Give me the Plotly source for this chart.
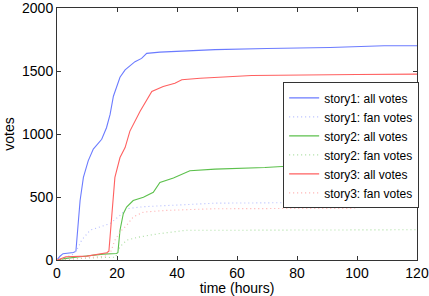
import plotly.graph_objects as go

# story1 all votes
s1_all_t = [0, 1, 2, 5.5, 6.3, 7, 7.7, 8.8, 10.4, 12.1, 14.9, 16.5, 17.7, 18.8, 19.9, 21, 22.7, 26, 28.2, 29.9, 34.3, 45, 52.7, 70, 91, 109, 120]
s1_all_v = [0, 30, 50, 60, 70, 250, 472, 656, 787, 880, 958, 1050, 1155, 1300, 1380, 1450, 1509, 1574, 1600, 1640, 1650, 1660, 1670, 1679, 1686, 1700, 1700]
# story1 fan votes
s1_fan_t = [0, 2, 5, 6.6, 8.2, 11, 14.3, 17.7, 21, 23.2, 28.8, 38.8, 52.7, 80, 120]
s1_fan_v = [0, 15, 40, 79, 157, 236, 262, 289, 354, 407, 423, 433, 451, 455, 459]
# story2 all votes
s2_all_t = [0, 3, 7.7, 15.4, 19.9, 20.3, 21, 22.1, 23.2, 25.4, 28.8, 32.1, 34.3, 38.8, 44.3, 52.7, 69.3, 79.3, 100, 120]
s2_all_v = [0, 13, 26, 47, 52, 60, 236, 367, 420, 472, 498, 538, 616, 651, 708, 721, 734, 748, 750, 752]
# story2 fan votes
s2_fan_t = [0, 5, 10, 19.5, 21, 23.2, 27.7, 34.3, 43.2, 52.7, 120]
s2_fan_v = [0, 8, 15, 22, 105, 157, 184, 210, 236, 236, 240]
# story3 all votes
s3_all_t = [0, 3, 10, 16.6, 17.3, 18.2, 19.3, 21, 22.7, 24.3, 27.7, 31.6, 35.4, 39.3, 41.6, 47.7, 52.7, 57.7, 64.9, 100, 120]
s3_all_v = [0, 26, 31, 58, 70, 341, 656, 813, 892, 1023, 1180, 1338, 1377, 1403, 1430, 1443, 1448, 1456, 1464, 1472, 1475]
# story3 fan votes
s3_fan_t = [0, 5, 10, 16, 17.7, 19.3, 21, 23.2, 25.4, 28.8, 36.6, 52.7, 99, 100, 120]
s3_fan_v = [0, 10, 20, 30, 52, 157, 223, 275, 341, 380, 394, 407, 410, 420, 420]

x_ticks = [0, 20, 40, 60, 80, 100, 120]
y_ticks = [0, 500, 1000, 1500, 2000]

series = [
    ("story1: all votes", s1_all_t, s1_all_v, "#6b7bff", "solid"),
    ("story1: fan votes", s1_fan_t, s1_fan_v, "#b3bbff", "1px,3px"),
    ("story2: all votes", s2_all_t, s2_all_v, "#5cc04c", "solid"),
    ("story2: fan votes", s2_fan_t, s2_fan_v, "#a8dd9e", "1px,3px"),
    ("story3: all votes", s3_all_t, s3_all_v, "#ff6060", "solid"),
    ("story3: fan votes", s3_fan_t, s3_fan_v, "#ffaaaa", "1px,3px"),
]

fig = go.Figure()
for name, t, v, c, d in series:
    fig.add_trace(go.Scatter(x=t, y=v, mode="lines", name=name,
                             line=dict(color=c, width=1.1, dash=d)))

axis_common = dict(showline=True, linecolor="#333", linewidth=1, mirror="allticks",
                   ticks="inside", ticklen=4, tickcolor="#333", showgrid=False,
                   zeroline=False, tickfont=dict(size=14, color="black"),
                   automargin=False, ticklabeloverflow="allow")

fig.update_layout(
    width=429, height=296,
    margin=dict(l=57, r=12, t=8, b=36),
    paper_bgcolor="white", plot_bgcolor="white",
    font=dict(family="Liberation Sans, Arial", color="black"),
    xaxis=dict(range=[0, 120], tickvals=x_ticks,
               title=dict(text="time (hours)", font=dict(size=14), standoff=0),
               **axis_common),
    yaxis=dict(range=[0, 2000], tickvals=y_ticks,
               title=dict(text="votes", font=dict(size=14), standoff=4),
               **axis_common),
    legend=dict(x=1.006, y=0.705, xanchor="right", yanchor="top",
                bgcolor="white", bordercolor="#333", borderwidth=1,
                font=dict(size=12), tracegroupgap=0),
    showlegend=True,
)

fig.write_html("out.html", config={"displayModeBar": False},
               post_script="document.body.style.margin='0';document.body.style.overflow='hidden';")
